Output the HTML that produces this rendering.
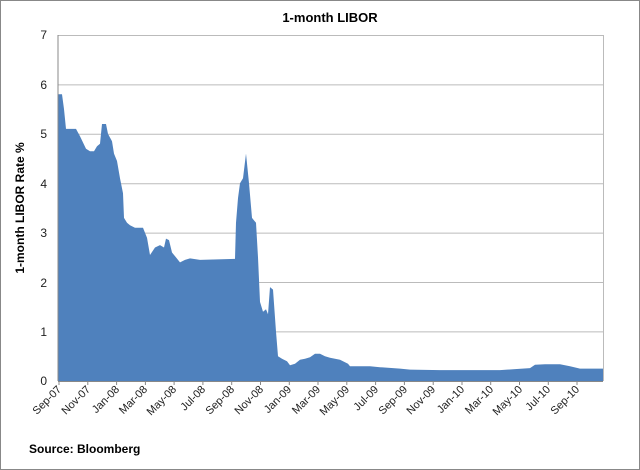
<!DOCTYPE html>
<html><head><meta charset="utf-8"><style>
body{margin:0;background:#fff}
svg{display:block;font-family:"Liberation Sans",sans-serif}
</style></head><body>
<svg width="640" height="470" viewBox="0 0 640 470">
<rect x="0.5" y="0.5" width="639" height="469" fill="#fff" stroke="#888"/>
<text x="330" y="22" font-size="13" font-weight="bold" text-anchor="middle">1-month LIBOR</text>
<g stroke="#bbb" stroke-width="1">
<line x1="58" y1="35.5" x2="603" y2="35.5"/>
<line x1="58" y1="84.9" x2="603" y2="84.9"/>
<line x1="58" y1="134.3" x2="603" y2="134.3"/>
<line x1="58" y1="183.7" x2="603" y2="183.7"/>
<line x1="58" y1="233.1" x2="603" y2="233.1"/>
<line x1="58" y1="282.5" x2="603" y2="282.5"/>
<line x1="58" y1="331.9" x2="603" y2="331.9"/>
</g>
<line x1="603.5" y1="35" x2="603.5" y2="381" stroke="#bbb"/>
<polygon fill="#4f81bd" points="58,381 58,94.3 62,94.3 64,109.1 66,128.9 76,128.9 80,136.3 86,148.7 90,151.2 94,151.2 97,146.2 100,143.7 102,124 106,124 108,133.9 112,141.3 114,153.6 117,161 120,178.3 123,193.2 124,217.9 127,222.8 130,225.3 135,227.8 143,227.8 147,237.7 150,255 155,247.5 160,245.1 164,247.5 166,238.6 169,240.1 172,252.5 176,257.4 180,262.4 185,259.9 190,258.4 200,259.9 235,258.9 236,222.8 238,198.1 240,183.3 243,178.3 246,153.6 249,183.3 252,217.9 256,222.8 258,257.4 260,301.9 263,311.8 266,309.3 268,314.3 270,287.1 273,289.6 276,331.6 278,356.3 282,358.8 287,361.2 290,365.2 295,363.7 300,359.7 305,358.8 310,357.3 315,353.8 320,353.8 325,356.3 330,357.8 340,359.7 348,363.7 350,366.2 370,366.2 380,367.2 400,368.6 410,369.6 440,370.1 500,370.1 515,369.1 530,368.1 535,364.7 545,364.2 560,364.2 570,366.2 580,368.6 603,368.6 603,381"/>
<line x1="58" y1="35" x2="58" y2="381" stroke="#888"/>
<line x1="58" y1="381.5" x2="603" y2="381.5" stroke="#888"/>
<g font-size="12" fill="#222" text-anchor="end">
<text x="47" y="39">7</text><text x="47" y="89">6</text><text x="47" y="138">5</text>
<text x="47" y="188">4</text><text x="47" y="237">3</text><text x="47" y="287">2</text>
<text x="47" y="336">1</text><text x="47" y="385">0</text>
</g>
<text transform="translate(24,208) rotate(-90)" font-size="12" font-weight="bold" text-anchor="middle">1-month LIBOR Rate %</text>
<g stroke="#888">
<line x1="59" y1="381" x2="59" y2="385"/><line x1="87.8" y1="381" x2="87.8" y2="385"/><line x1="116.6" y1="381" x2="116.6" y2="385"/><line x1="145.4" y1="381" x2="145.4" y2="385"/><line x1="174.1" y1="381" x2="174.1" y2="385"/><line x1="202.9" y1="381" x2="202.9" y2="385"/><line x1="231.7" y1="381" x2="231.7" y2="385"/><line x1="260.5" y1="381" x2="260.5" y2="385"/><line x1="289.3" y1="381" x2="289.3" y2="385"/><line x1="318" y1="381" x2="318" y2="385"/><line x1="346.8" y1="381" x2="346.8" y2="385"/><line x1="375.6" y1="381" x2="375.6" y2="385"/><line x1="404.4" y1="381" x2="404.4" y2="385"/><line x1="433.2" y1="381" x2="433.2" y2="385"/><line x1="462" y1="381" x2="462" y2="385"/><line x1="490.7" y1="381" x2="490.7" y2="385"/><line x1="519.5" y1="381" x2="519.5" y2="385"/><line x1="548.3" y1="381" x2="548.3" y2="385"/><line x1="577" y1="381" x2="577" y2="385"/>
</g>
<g font-size="11" fill="#222" text-anchor="end">
<text transform="translate(62,390) rotate(-45)">Sep-07</text>
<text transform="translate(91,390) rotate(-45)">Nov-07</text>
<text transform="translate(120,390) rotate(-45)">Jan-08</text>
<text transform="translate(148,390) rotate(-45)">Mar-08</text>
<text transform="translate(177,390) rotate(-45)">May-08</text>
<text transform="translate(206,390) rotate(-45)">Jul-08</text>
<text transform="translate(235,390) rotate(-45)">Sep-08</text>
<text transform="translate(264,390) rotate(-45)">Nov-08</text>
<text transform="translate(292,390) rotate(-45)">Jan-09</text>
<text transform="translate(321,390) rotate(-45)">Mar-09</text>
<text transform="translate(350,390) rotate(-45)">May-09</text>
<text transform="translate(379,390) rotate(-45)">Jul-09</text>
<text transform="translate(408,390) rotate(-45)">Sep-09</text>
<text transform="translate(436,390) rotate(-45)">Nov-09</text>
<text transform="translate(465,390) rotate(-45)">Jan-10</text>
<text transform="translate(494,390) rotate(-45)">Mar-10</text>
<text transform="translate(523,390) rotate(-45)">May-10</text>
<text transform="translate(551,390) rotate(-45)">Jul-10</text>
<text transform="translate(580,390) rotate(-45)">Sep-10</text>
</g>
<text x="29" y="453" font-size="12" font-weight="bold">Source: Bloomberg</text>
</svg>
</body></html>
